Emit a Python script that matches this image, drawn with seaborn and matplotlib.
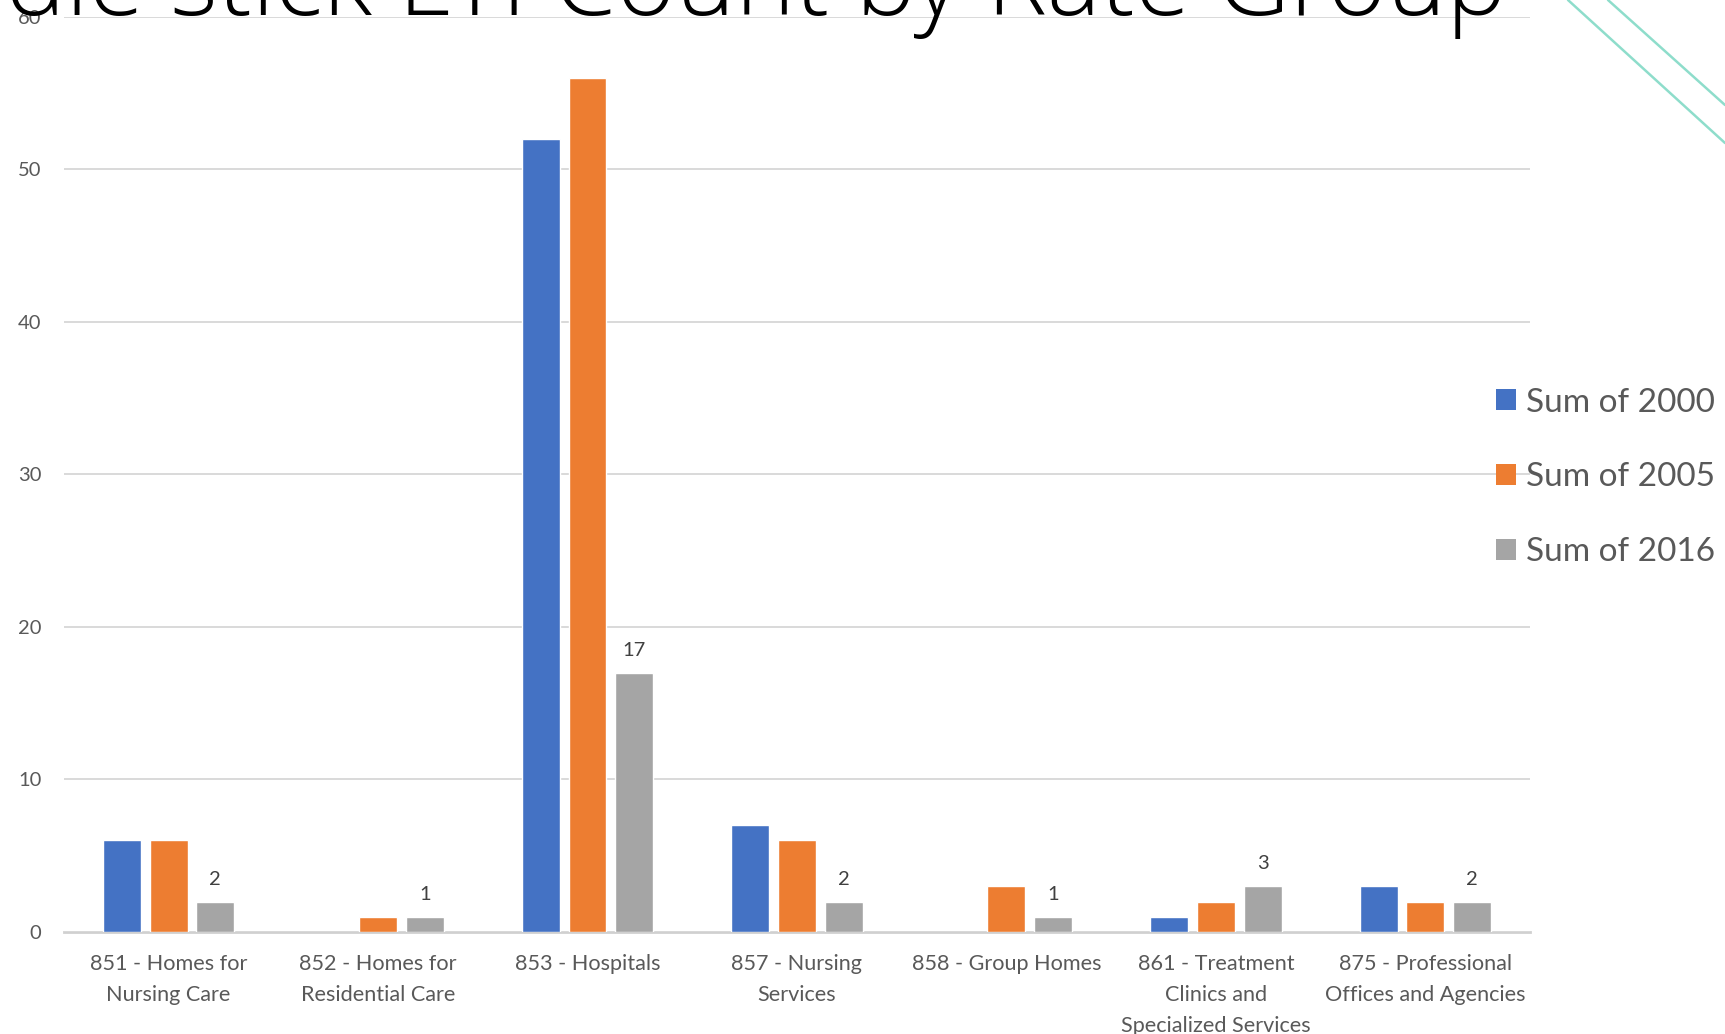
import numpy as np
import pandas as pd
import matplotlib
matplotlib.use("Agg")
import matplotlib.pyplot as plt
from matplotlib.lines import Line2D
from matplotlib.patches import Patch
import seaborn as sns

# ---- data ----
categories = [
    "851 - Homes for\nNursing Care",
    "852 - Homes for\nResidential Care",
    "853 - Hospitals",
    "857 - Nursing\nServices",
    "858 - Group Homes",
    "861 - Treatment\nClinics and\nSpecialized Services",
    "875 - Professional\nOffices and Agencies",
]
series_names = ["Sum of 2000", "Sum of 2005", "Sum of 2016"]
sum_2000 = [6, np.nan, 52, 7, np.nan, 1, 3]
sum_2005 = [6, 1, 56, 6, 3, 2, 2]
sum_2016 = [2, 1, 17, 2, 1, 3, 2]
y_ticks = [0, 10, 20, 30, 40, 50, 60]
title_text = "Needle stick LTI Count by Rate Group"

colors = ["#4472C4", "#ED7D31", "#A5A5A5"]

df = pd.DataFrame({
    "category": categories * 3,
    "series": [series_names[0]] * 7 + [series_names[1]] * 7 + [series_names[2]] * 7,
    "value": sum_2000 + sum_2005 + sum_2016,
})

sns.set_theme(style="white")
plt.rcParams["font.family"] = ["Lato", "DejaVu Sans"]

fig = plt.figure(figsize=(17.25, 10.34), dpi=100)
fig.patch.set_facecolor("white")
ax = fig.add_axes([0.037, 0.0986, 0.850, 0.8854])

sns.barplot(data=df, x="category", y="value", hue="series",
            order=categories, hue_order=series_names,
            palette=colors, width=0.67, gap=0.19, saturation=1,
            errorbar=None, ax=ax, legend=False)

ax.set_xlim(-0.5, 6.5)
ax.set_ylim(0, 60)
ax.set_yticks(y_ticks)
ax.set_xlabel("")
ax.set_ylabel("")
ax.yaxis.grid(True, color="#D9D9D9", linewidth=1.4)
ax.set_axisbelow(True)
for s in ["top", "right", "left"]:
    ax.spines[s].set_visible(False)
ax.spines["bottom"].set_color("#D0D0D0")
ax.spines["bottom"].set_linewidth(2)
ax.spines["bottom"].set_zorder(0.5)
ax.tick_params(axis="x", length=0, pad=16, labelsize=15.6, labelcolor="#595959")
ax.tick_params(axis="y", length=0, pad=16, labelsize=14.5, labelcolor="#595959")
for lab in ax.get_xticklabels():
    lab.set_linespacing(1.68)
    lab.set_horizontalalignment("center")

# data labels on 2016 series only
cont = ax.containers[2]
ax.bar_label(cont, labels=[f"{v:g}" for v in sum_2016], padding=10,
             fontsize=14.5, color="#404040")

# legend
handles = [Patch(facecolor=c, edgecolor="none") for c in colors]
fig.legend(handles, series_names, loc="center left",
           bbox_to_anchor=(0.867, 0.5385), bbox_transform=fig.transFigure,
           frameon=False, fontsize=24, handlelength=0.6, handleheight=0.6,
           handletextpad=0.3, labelspacing=1.34, borderpad=0, borderaxespad=0,
           labelcolor="#595959")

# title (partially cut off by the top/left edge, as in the reference)
fig.text(0.8736, 1 - 15 / 1034, title_text, ha="right", va="baseline",
         fontsize=73, color="black", family=["Open Sans", "DejaVu Sans"],
         fontweight="light")

# decorative teal lines at top right
fig.add_artist(Line2D([1568 / 1725, 1.0], [1.0, 1 - 143 / 1034],
                      transform=fig.transFigure, color="#8EDDCB", linewidth=1.8))
fig.add_artist(Line2D([1608 / 1725, 1.0], [1.0, 1 - 105 / 1034],
                      transform=fig.transFigure, color="#8EDDCB", linewidth=1.8))

fig.savefig("out.png", dpi=100, facecolor="white")
